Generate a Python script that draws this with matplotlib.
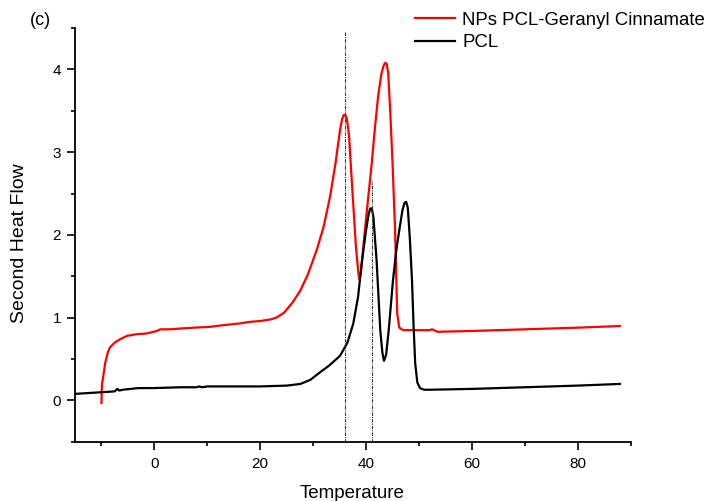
import matplotlib
matplotlib.use("Agg")
import matplotlib.pyplot as plt
from matplotlib.ticker import MultipleLocator

plt.rcParams['font.family'] = ['Liberation Sans', 'DejaVu Sans']

# NPs PCL-Geranyl Cinnamate (red)
np_temp = [-10.0, -9.9, -9.7, -9.3, -8.8, -8.4, -7.5, -6.5, -5.2, -3.5, -1.5, 0.5, 1.1,
           3.0, 5.0, 7.5, 10.5, 13.0, 16.0, 18.0, 20.0, 22.0, 23.0, 24.5, 26.2, 27.6,
           29.0, 30.7, 32.0, 33.2, 34.2, 35.1, 35.5, 35.8, 36.1, 36.4, 36.8, 37.3,
           38.1, 38.5, 38.7, 39.0, 39.8, 40.5, 41.1, 41.7, 42.3, 42.9, 43.3, 43.6,
           43.9, 44.2, 44.6, 45.0, 45.5, 45.9, 46.3, 47.0, 49.0, 52.0, 52.5, 53.5,
           60.0, 70.0, 80.0, 88.0]
np_flow = [-0.03, 0.20, 0.27, 0.45, 0.58, 0.64, 0.70, 0.74, 0.78, 0.80, 0.81, 0.84, 0.86,
           0.86, 0.87, 0.88, 0.89, 0.91, 0.93, 0.95, 0.96, 0.98, 1.00, 1.06, 1.19, 1.33,
           1.52, 1.82, 2.10, 2.46, 2.85, 3.27, 3.40, 3.45, 3.45, 3.40, 3.20, 2.67,
           1.86, 1.58, 1.47, 1.52, 2.06, 2.50, 2.87, 3.30, 3.68, 3.94, 4.04, 4.08,
           4.07, 3.96, 3.47, 2.90, 2.06, 1.05, 0.88, 0.85, 0.85, 0.85, 0.86, 0.83,
           0.84, 0.86, 0.88, 0.90]

# PCL (black)
pcl_temp = [-15.0, -10.0, -7.5, -7.0, -6.6, -6.0, -3.0, 0.0, 5.0, 8.0, 8.5, 9.0, 10.0,
            15.0, 20.0, 25.0, 27.6, 29.5, 31.3, 33.0, 35.1, 36.5, 37.6, 38.5, 39.2,
            40.0, 40.5, 40.8, 41.1, 41.4, 42.0, 42.7, 43.1, 43.4, 43.8, 44.3, 45.1,
            45.8, 46.4, 46.9, 47.3, 47.6, 47.9, 48.3, 48.7, 49.0, 49.3, 49.7, 50.2,
            51.0, 52.0, 60.0, 70.0, 80.0, 88.0]
pcl_flow = [0.08, 0.10, 0.11, 0.14, 0.12, 0.13, 0.15, 0.15, 0.16, 0.16, 0.17, 0.16, 0.17,
            0.17, 0.17, 0.18, 0.20, 0.25, 0.34, 0.42, 0.54, 0.70, 0.93, 1.25, 1.66,
            2.05, 2.25, 2.32, 2.32, 2.22, 1.70, 0.85, 0.58, 0.48, 0.55, 0.85, 1.45,
            1.85, 2.10, 2.30, 2.39, 2.40, 2.33, 1.95, 1.45, 0.90, 0.45, 0.22, 0.15,
            0.13, 0.13, 0.14, 0.16, 0.18, 0.20]

# dotted guide lines: temperature and top end
guide_x = [36.0, 41.1]
guide_top = [4.45, 2.65]

fig = plt.figure(figsize=(7.21, 5.01), dpi=100)
ax = fig.add_axes([0.104, 0.118, 0.7705, 0.826])

ax.plot(np_temp, np_flow, color='#ff0000', lw=1.6, label='NPs PCL-Geranyl Cinnamate')
ax.plot(pcl_temp, pcl_flow, color='black', lw=1.6, label='PCL')

for gx, gt in zip(guide_x, guide_top):
    ax.plot([gx, gx], [-0.5, gt], color='#333333', lw=0.8, ls=(0, (3, 1, 1, 1)))

ax.set_xlim(-15, 90)
ax.set_ylim(-0.5, 4.5)
ax.xaxis.set_major_locator(MultipleLocator(20))
ax.xaxis.set_minor_locator(MultipleLocator(10))
ax.yaxis.set_major_locator(MultipleLocator(1))
ax.yaxis.set_minor_locator(MultipleLocator(0.5))

for s in ['top', 'right']:
    ax.spines[s].set_visible(False)
for s in ['left', 'bottom']:
    ax.spines[s].set_linewidth(1.3)

ax.tick_params(which='major', direction='out', length=6, width=1.2, labelsize=11)
ax.tick_params(which='minor', direction='out', length=3, width=1.2)
ax.tick_params(axis='x', which='major', pad=5)
ax.tick_params(axis='y', which='major', pad=4)

ax.set_xlabel('Temperature', fontsize=13.5, va='center')
ax.set_ylabel('Second Heat Flow', fontsize=14, va='center')
ax.xaxis.set_label_coords(0.499, -0.124)
ax.yaxis.set_label_coords(-0.099, 0.48)

fig.legend(loc='upper left', bbox_to_anchor=(0.5525, 1.01), frameon=False,
           fontsize=13.4, handlelength=2.15, handletextpad=0.38, labelspacing=0.3)

fig.text(0.042, 0.96, '(c)', fontsize=13, ha='left', va='center')

fig.savefig('out.png', dpi=100)
